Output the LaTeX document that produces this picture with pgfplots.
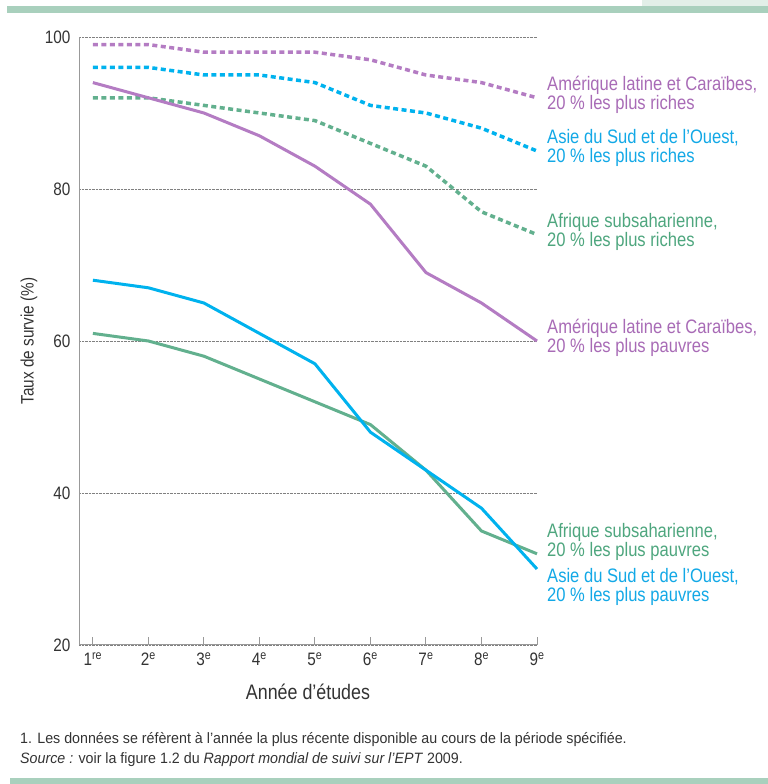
\documentclass[border=0pt]{standalone}
\usepackage{fontspec}
\setmainfont{Liberation Sans}[FakeStretch=0.85]
\newfontfamily\footfont{Liberation Sans}[FakeStretch=0.95]
\usepackage{pgfplots}
\pgfplotsset{compat=1.18}

\definecolor{lacline}{HTML}{B47CC3}
\definecolor{lactext}{HTML}{A86BB6}
\definecolor{asline}{HTML}{00B2EE}
\definecolor{astext}{HTML}{12A8E6}
\definecolor{afline}{HTML}{62B08E}
\definecolor{aftext}{HTML}{4EA67E}
\definecolor{barcol}{HTML}{A9D0BD}
\definecolor{boxcol}{HTML}{E2EFE8}
\definecolor{txt}{HTML}{333333}

\pgfplotstableread{
x lacr asr afr lacp asp afp
1 99 96 92 94 68 61
2 99 96 92 92 67 60
3 98 95 91 90 65 58
4 98 95 90 87 61 55
5 98 94 89 83 57 52
6 97 91 86 78 48 49
7 95 90 83 69 43 43
8 94 88 77 65 38 35
9 92 85 74 60 30 32
}\survie

\begin{document}
\begin{tikzpicture}[font=\fontsize{19.5bp}{19bp}\selectfont]
% picture frame: pixel (px,py) -> ((px-79)bp, (645-py)bp)
\path[use as bounding box] (-79bp,645bp) rectangle (689bp,-139bp);
\fill[barcol] (-72bp,639bp) rectangle (689bp,632bp);
\fill[boxcol] (563bp,645bp) rectangle (689bp,639bp);
\fill[barcol] (-69bp,-133bp) rectangle (689bp,-139bp);

\begin{axis}[
  at={(0,0)}, anchor=south west,
  scale only axis, width=458bp, height=608bp,
  xmin=0.75, xmax=9, ymin=20, ymax=100,
  axis lines=left, axis line style={-, draw=gray!80, line width=1bp},
  xtick={1,...,9},
  xticklabels={1\textsuperscript{re},2\textsuperscript{e},3\textsuperscript{e},4\textsuperscript{e},5\textsuperscript{e},6\textsuperscript{e},7\textsuperscript{e},8\textsuperscript{e},9\textsuperscript{e}},
  ytick={20,40,60,80,100},
  ymajorgrids, grid style={densely dotted, gray, line width=0.6bp},
  major tick length=8bp,
  x tick style={draw=gray!80, line width=1bp, yshift=4bp},
  y tick style={draw=none},
  tick label style={font=\fontsize{18bp}{19bp}\selectfont, text=txt},
  /pgf/number format/assume math mode=true,
  xticklabel style={yshift=0bp},
  yticklabel style={xshift=-1bp},
  clip=false,
]
\addplot[lacline, line width=3.5bp, dash pattern=on 5bp off 3.5bp] table[x=x, y=lacr] {\survie};
\addplot[asline, line width=3.5bp, dash pattern=on 5bp off 3.5bp] table[x=x, y=asr] {\survie};
\addplot[afline, line width=3.5bp, dash pattern=on 5bp off 3.5bp] table[x=x, y=afr] {\survie};
\addplot[lacline, line width=3bp] table[x=x, y=lacp] {\survie};
\addplot[afline, line width=3bp] table[x=x, y=afp] {\survie};
\addplot[asline, line width=3bp] table[x=x, y=asp] {\survie};
\end{axis}

\node[anchor=west, align=left, text=lactext, inner sep=0pt] at (468bp,550.5bp) {Amérique latine et Caraïbes,\\20 \% les plus riches};
\node[anchor=west, align=left, text=astext, inner sep=0pt] at (468bp,497.5bp) {Asie du Sud et de l’Ouest,\\20 \% les plus riches};
\node[anchor=west, align=left, text=aftext, inner sep=0pt] at (468bp,413.5bp) {Afrique subsaharienne,\\20 \% les plus riches};
\node[anchor=west, align=left, text=lactext, inner sep=0pt] at (468bp,307.5bp) {Amérique latine et Caraïbes,\\20 \% les plus pauvres};
\node[anchor=west, align=left, text=aftext, inner sep=0pt] at (468bp,103.5bp) {Afrique subsaharienne,\\20 \% les plus pauvres};
\node[anchor=west, align=left, text=astext, inner sep=0pt] at (468bp,58.5bp) {Asie du Sud et de l’Ouest,\\20 \% les plus pauvres};

\node[rotate=90, text=txt, font=\fontsize{18bp}{19bp}\selectfont] at (-50bp,304bp) {Taux de survie (\%)};
\node[text=txt, font=\fontsize{21bp}{19bp}\selectfont] at (229bp,-47bp) {Année d’études};

\node[anchor=west, align=left, text=txt, inner sep=0pt, font=\footfont\fontsize{15bp}{20bp}\selectfont] at (-59bp,-105bp) {1. Les données se réfèrent à l’année la plus récente disponible au cours de la période spécifiée.\\\textit{Source :} voir la figure 1.2 du \textit{Rapport mondial de suivi sur l’EPT} 2009.};
\end{tikzpicture}
\end{document}
